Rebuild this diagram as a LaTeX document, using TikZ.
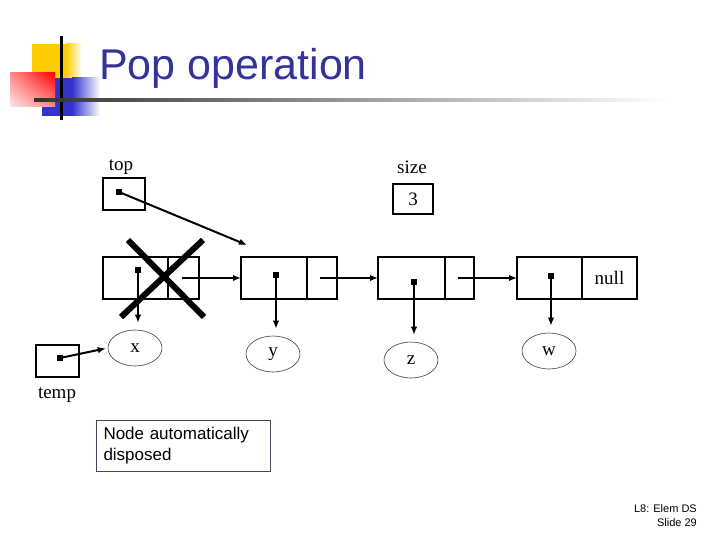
\documentclass[tikz,border=0pt]{standalone}
\usepackage{fontspec}
\setmainfont{Liberation Serif}
\setsansfont{Liberation Sans}
\usetikzlibrary{arrows.meta,positioning,shapes.geometric,shadings}
\definecolor{TitleBlue}{RGB}{51,51,153}
\definecolor{DecoYellow}{RGB}{255,204,0}
\definecolor{DecoBlue}{RGB}{51,51,204}
\definecolor{DecoRed}{RGB}{255,0,0}
\definecolor{NoteFrame}{RGB}{70,70,100}

\tikzset{
  cell/.style={draw, line width=2.4pt, minimum height=42pt, inner sep=0pt, outer sep=0pt},
  ptrbox/.style={draw, line width=2.4pt, inner sep=0pt},
  ptrdot/.style={fill, inner sep=0pt, minimum size=6pt},
  valnode/.style={ellipse, draw=black!75, line width=0.6pt, minimum width=54pt,
                  minimum height=36pt, inner sep=0pt, font=\fontsize{19}{19}\selectfont},
  link/.style={-{Latex[length=8pt,width=6.5pt]}, line width=2pt},
  lbl/.style={font=\fontsize{19}{19}\selectfont, inner sep=0pt},
}

\begin{document}
\begin{tikzpicture}[x=1pt,y=-1pt]
  \fill[white] (0,0) rectangle (720,540);
  \useasboundingbox (0,0) rectangle (720,540);

  % slide decoration
  \fill[DecoYellow] (32,44) rectangle (66,78);
  \shade[left color=DecoYellow, right color=white] (66,44) rectangle (82,78);
  \fill[DecoBlue] (42,78) rectangle (72,116);
  \shade[left color=DecoBlue, right color=white] (72,78) rectangle (100,116);
  \shade[upper left=DecoRed!45, upper right=DecoRed, lower left=DecoRed!10,
         lower right=DecoRed!45] (10,73) rectangle (55,107);
  \draw[line width=3pt] (61,36) -- (61,120);
  \shade[left color=black!80, right color=white] (34,98.5) rectangle (667,101.5);

  \node[anchor=base west, inner sep=0pt, text=TitleBlue,
        font=\sffamily\fontsize{43}{43}\selectfont] (title) at (99,80) {Pop operation};

  % top and size
  \node[lbl] (toplbl) at (121,167) {top};
  \node[ptrbox, minimum width=42pt, minimum height=32pt] (topbox) at (124,194) {};
  \node[ptrdot] (topdot) at (119,192) {};
  \node[lbl] (sizelbl) at (412,167) {size};
  \node[ptrbox, lbl, minimum width=40pt, minimum height=30pt] (sizebox) at (413,199) {3};

  % list cells
  \node[cell, minimum width=65pt] (d1) at (135.5,278) {};
  \node[cell, minimum width=31pt, right=0pt of d1] (p1) {};
  \node[cell, minimum width=66pt] (d2) at (274,278) {};
  \node[cell, minimum width=30pt, right=0pt of d2] (p2) {};
  \node[cell, minimum width=67pt] (d3) at (411.5,278) {};
  \node[cell, minimum width=29pt, right=0pt of d3] (p3) {};
  \node[cell, minimum width=65pt] (d4) at (549.5,278) {};
  \node[cell, lbl, minimum width=55pt, right=0pt of d4] (p4) {null};

  \node[ptrdot] (dot1) at (138,270) {};
  \node[ptrdot] (dot2) at (276,275) {};
  \node[ptrdot] (dot3) at (414,282) {};
  \node[ptrdot] (dot4) at (551,276) {};

  \node[valnode] (vx) at (135,348) {x};
  \node[valnode] (vy) at (273,354) {y};
  \node[valnode] (vz) at (411,360) {z};
  \node[valnode] (vw) at (549,351) {w};

  % temp
  \node[ptrbox, minimum width=43pt, minimum height=32pt] (tempbox) at (57.5,361) {};
  \node[ptrdot] (tempdot) at (60,358) {};
  \node[lbl] (templbl) at (57,395) {temp};

  % links
  \coordinate (toptip) at (247,245);
  \draw[link] (topdot.center) -- (toptip);
  \foreach \a/\b in {p1/d2,p2/d3,p3/d4}
    \draw[link] ([xshift=-2pt]\a.center) -- (\a.center -| \b.west);
  \foreach \d/\v in {dot1/vx,dot2/vy,dot3/vz,dot4/vw}
    \draw[link, shorten >=7pt] (\d.center) -- (\d.center |- \v.north);
  \draw[link, shorten >=2pt] (tempdot.center) -- (vx.west);

  % disposed node
  \draw[line width=6pt] (128,240) -- (204,317) (203,240) -- (121,317);

  \node[draw=NoteFrame, line width=1pt, anchor=north west, minimum height=51pt,
        text width=160pt, align=left, inner xsep=7pt, inner ysep=4pt,
        font=\sffamily\fontsize{17}{21}\selectfont] (note) at (96,420)
        {Node automatically\\disposed};

  \node[anchor=north east, align=right, inner sep=0pt,
        font=\sffamily\fontsize{11}{14}\selectfont] (footer) at (697,504)
        {L8: Elem DS\\Slide 29};
\end{tikzpicture}
\end{document}
